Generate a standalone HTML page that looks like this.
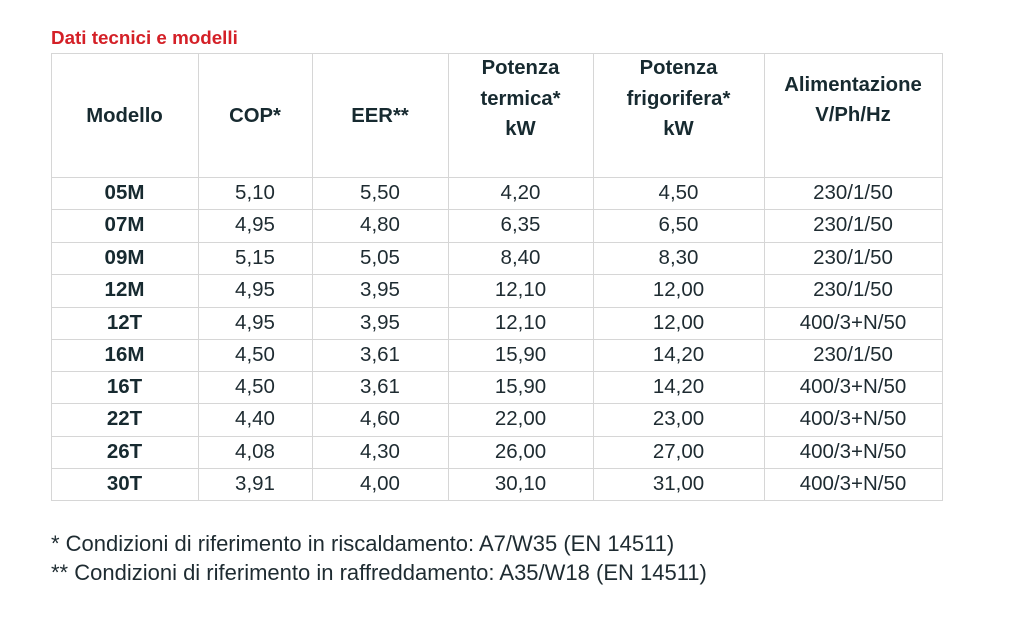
<!DOCTYPE html>
<html>
<head>
<meta charset="utf-8">
<style>
  html,body{margin:0;padding:0;background:#fff;}
  body{width:1024px;height:632px;position:relative;overflow:hidden;font-family:"Liberation Sans",sans-serif;color:#1e2b31;}
  .h{position:absolute;height:1px;background:#d6d6d6;left:51px;width:892px;}
  .v{position:absolute;width:1px;background:#d6d6d6;top:53px;height:448px;}
  .t{position:absolute;text-align:center;font-size:20.3px;white-space:nowrap;color:#172a30;}
  .b{font-weight:bold;}
  .row{position:absolute;left:0;width:1024px;height:32px;line-height:32px;font-size:20.5px;}
  .row div{position:absolute;top:0;text-align:center;white-space:nowrap;}
  .c1{left:51px;width:147px;font-weight:bold;color:#172a30;}
  .c2{left:198px;width:114px;}
  .c3{left:312px;width:136px;}
  .c4{left:448px;width:145px;}
  .c5{left:593px;width:171px;}
  .c6{left:764px;width:178px;}
  .title{position:absolute;left:51px;top:27px;font-size:18.8px;font-weight:bold;color:#d42027;line-height:22px;}
  .fn{position:absolute;left:51px;font-size:22px;line-height:29px;white-space:nowrap;}
</style>
</head>
<body>
<div class="title">Dati tecnici e modelli</div>

<!-- horizontal lines -->
<div class="h" style="top:53px"></div>
<div class="h" style="top:177px"></div>
<div class="h" style="top:209px"></div>
<div class="h" style="top:242px"></div>
<div class="h" style="top:274px"></div>
<div class="h" style="top:307px"></div>
<div class="h" style="top:339px"></div>
<div class="h" style="top:371px"></div>
<div class="h" style="top:403px"></div>
<div class="h" style="top:436px"></div>
<div class="h" style="top:468px"></div>
<div class="h" style="top:500px"></div>
<!-- vertical lines -->
<div class="v" style="left:51px"></div>
<div class="v" style="left:198px"></div>
<div class="v" style="left:312px"></div>
<div class="v" style="left:448px"></div>
<div class="v" style="left:593px"></div>
<div class="v" style="left:764px"></div>
<div class="v" style="left:942px"></div>

<!-- header -->
<div class="t b" style="left:51px;width:147px;top:100.5px;line-height:30px;">Modello</div>
<div class="t b" style="left:198px;width:114px;top:100.5px;line-height:30px;">COP*</div>
<div class="t b" style="left:312px;width:136px;top:100.5px;line-height:30px;">EER**</div>
<div class="t b" style="left:448px;width:145px;top:53px;line-height:30.5px;">Potenza<br>termica*<br>kW</div>
<div class="t b" style="left:593px;width:171px;top:53px;line-height:30.5px;">Potenza<br>frigorifera*<br>kW</div>
<div class="t b" style="left:764px;width:178px;top:70px;line-height:30px;">Alimentazione<br>V/Ph/Hz</div>

<!-- rows -->
<div class="row" style="top:177px"><div class="c1">05M</div><div class="c2">5,10</div><div class="c3">5,50</div><div class="c4">4,20</div><div class="c5">4,50</div><div class="c6">230/1/50</div></div>
<div class="row" style="top:209px"><div class="c1">07M</div><div class="c2">4,95</div><div class="c3">4,80</div><div class="c4">6,35</div><div class="c5">6,50</div><div class="c6">230/1/50</div></div>
<div class="row" style="top:242px"><div class="c1">09M</div><div class="c2">5,15</div><div class="c3">5,05</div><div class="c4">8,40</div><div class="c5">8,30</div><div class="c6">230/1/50</div></div>
<div class="row" style="top:274px"><div class="c1">12M</div><div class="c2">4,95</div><div class="c3">3,95</div><div class="c4">12,10</div><div class="c5">12,00</div><div class="c6">230/1/50</div></div>
<div class="row" style="top:307px"><div class="c1">12T</div><div class="c2">4,95</div><div class="c3">3,95</div><div class="c4">12,10</div><div class="c5">12,00</div><div class="c6">400/3+N/50</div></div>
<div class="row" style="top:339px"><div class="c1">16M</div><div class="c2">4,50</div><div class="c3">3,61</div><div class="c4">15,90</div><div class="c5">14,20</div><div class="c6">230/1/50</div></div>
<div class="row" style="top:371px"><div class="c1">16T</div><div class="c2">4,50</div><div class="c3">3,61</div><div class="c4">15,90</div><div class="c5">14,20</div><div class="c6">400/3+N/50</div></div>
<div class="row" style="top:403px"><div class="c1">22T</div><div class="c2">4,40</div><div class="c3">4,60</div><div class="c4">22,00</div><div class="c5">23,00</div><div class="c6">400/3+N/50</div></div>
<div class="row" style="top:436px"><div class="c1">26T</div><div class="c2">4,08</div><div class="c3">4,30</div><div class="c4">26,00</div><div class="c5">27,00</div><div class="c6">400/3+N/50</div></div>
<div class="row" style="top:468px"><div class="c1">30T</div><div class="c2">3,91</div><div class="c3">4,00</div><div class="c4">30,10</div><div class="c5">31,00</div><div class="c6">400/3+N/50</div></div>

<!-- footnotes -->
<div class="fn" style="top:529px">* Condizioni di riferimento in riscaldamento: A7/W35 (EN 14511)</div>
<div class="fn" style="top:558px">** Condizioni di riferimento in raffreddamento: A35/W18 (EN 14511)</div>
</body>
</html>
